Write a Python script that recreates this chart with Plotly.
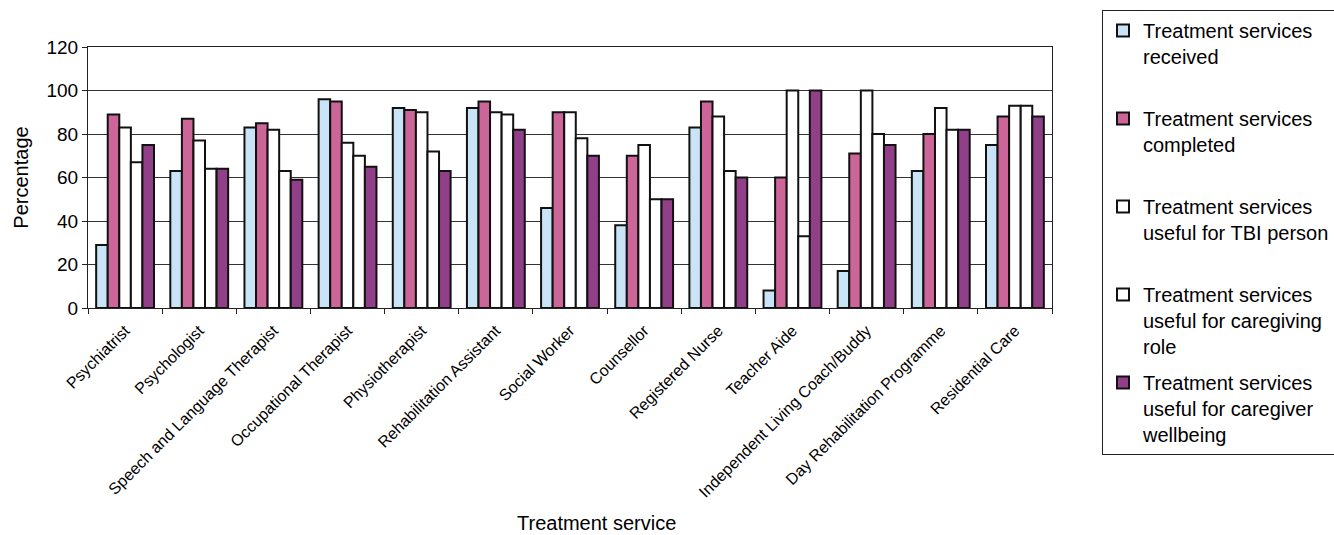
import plotly.graph_objects as go

categories = [
    "Psychiatrist", "Psychologist", "Speech and Language Therapist",
    "Occupational Therapist", "Physiotherapist", "Rehabilitation Assistant",
    "Social Worker", "Counsellor", "Registered Nurse", "Teacher Aide",
    "Independent Living Coach/Buddy", "Day Rehabilitation Programme",
    "Residential Care",
]

received = [29, 63, 83, 96, 92, 92, 46, 38, 83, 8, 17, 63, 75]
completed = [89, 87, 85, 95, 91, 95, 90, 70, 95, 60, 71, 80, 88]
useful_tbi = [83, 77, 82, 76, 90, 90, 90, 75, 88, 100, 100, 92, 93]
useful_role = [67, 64, 63, 70, 72, 89, 78, 50, 63, 33, 80, 82, 93]
useful_wellbeing = [75, 64, 59, 65, 63, 82, 70, 50, 60, 100, 75, 82, 88]

series_names = [
    "Treatment services<br>received<br> ",
    "Treatment services<br>completed<br> ",
    "Treatment services<br>useful for TBI person<br> ",
    "Treatment services<br>useful for caregiving<br>role",
    "Treatment services<br>useful for caregiver<br>wellbeing",
]
series_values = [received, completed, useful_tbi, useful_role, useful_wellbeing]
series_colors = ["#C9E4F6", "#CC6699", "#FFFFFF", "#FFFFFF", "#923F89"]

y_ticks = [0, 20, 40, 60, 80, 100, 120]
x_title = "Treatment service"

fig = go.Figure()
for i, (name, vals, col) in enumerate(zip(series_names, series_values, series_colors)):
    fig.add_trace(go.Bar(
        x=categories, y=vals, name=name, legendgroup=f"g{i}",
        marker=dict(color=col, line=dict(color="#111111", width=2)),
    ))

FONT = "Liberation Sans, Arial, sans-serif"
fig.update_layout(
    width=1334, height=535,
    margin=dict(l=88, r=282, t=47, b=227),
    paper_bgcolor="white", plot_bgcolor="white",
    font=dict(family=FONT, color="black"),
    barmode="group", bargap=0.22, bargroupgap=0.0,
    showlegend=True,
    legend=dict(
        xref="container", yref="container",
        x=1102/1334, y=1 - 10/535, xanchor="left", yanchor="top",
        font=dict(family=FONT, size=20, color="black"),
        bordercolor="#222222", borderwidth=1, bgcolor="white",
        tracegroupgap=7, traceorder="grouped", valign="top",
        maxheight=1.0,
    ),
    annotations=[dict(
        text=x_title, xref="paper", yref="paper",
        x=(596 - 88) / 964, y=(308 - 523) / 261,
        xanchor="center", yanchor="middle", showarrow=False,
        font=dict(family=FONT, size=20, color="black"),
    )],
)
fig.update_xaxes(
    type="category", tickangle=-45, tickfont=dict(size=16),
    showline=True, linecolor="#222222", linewidth=1, mirror=True,
    ticks="outside", ticklen=5, tickcolor="#222222", tickson="boundaries",
    showgrid=False, ticklabelstandoff=6,
)
fig.update_yaxes(
    range=[0, 120], tickvals=y_ticks, tickfont=dict(size=19),
    showline=True, linecolor="#222222", linewidth=1, mirror=True,
    ticks="outside", ticklen=5, tickcolor="#222222",
    showgrid=True, gridcolor="#333333", gridwidth=1,
    zeroline=False,
    title=dict(text="Percentage", font=dict(size=20), standoff=12),
)

fig.write_html("out.html")
